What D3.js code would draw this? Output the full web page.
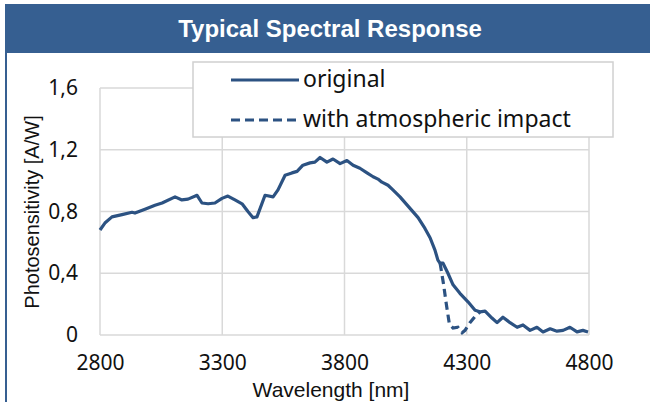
<!DOCTYPE html>
<html>
<head>
<meta charset="utf-8">
<script src="https://cdn.jsdelivr.net/npm/d3@7"></script>
<style>
  body { margin: 0; background: #fff; }
  svg { display: block; }
</style>
</head>
<body>
<svg id="main" width="650" height="404"></svg>
<script>
// spectral response (wavelength nm, A/W)
const wavelength = [2800, 2820, 2849, 2890, 2931, 2943, 2984, 3025, 3054, 3107, 3135, 3160, 3197, 3217, 3242,
  3270, 3299, 3323, 3352, 3381, 3405, 3426, 3442, 3475, 3508, 3528, 3557, 3585, 3606, 3630, 3659, 3679,
  3700, 3728, 3753, 3782, 3810, 3835, 3863, 3892, 3917, 3937, 3953, 3978, 3998, 4027, 4068, 4101, 4129,
  4150, 4170, 4182, 4191, 4203, 4223, 4244, 4272, 4305, 4334, 4354, 4375, 4403, 4424, 4448, 4477, 4506,
  4530, 4559, 4587, 4612, 4641, 4669, 4694, 4722, 4751, 4775, 4796];
const original = [0.68, 0.725, 0.765, 0.78, 0.795, 0.79, 0.815, 0.84, 0.855, 0.895, 0.875, 0.88, 0.905, 0.855, 0.85,
  0.855, 0.885, 0.90, 0.875, 0.85, 0.80, 0.76, 0.765, 0.905, 0.895, 0.94, 1.035, 1.05, 1.06, 1.10, 1.115, 1.12,
  1.15, 1.12, 1.14, 1.11, 1.13, 1.10, 1.08, 1.05, 1.025, 1.01, 0.99, 0.97, 0.94, 0.895, 0.82, 0.76, 0.69,
  0.63, 0.55, 0.485, 0.465, 0.465, 0.40, 0.325, 0.27, 0.215, 0.16, 0.15, 0.155, 0.11, 0.08, 0.115, 0.08, 0.05,
  0.065, 0.03, 0.05, 0.02, 0.04, 0.025, 0.03, 0.05, 0.02, 0.03, 0.02];

// atmospheric absorption dip, only where it departs from the original
const atmWavelength = [4191, 4205, 4216, 4229, 4244, 4264, 4281, 4293, 4313, 4334, 4354];
const atmospheric = [0.465, 0.33, 0.205, 0.07, 0.045, 0.05, 0.015, 0.03, 0.08, 0.12, 0.15];

const xTicks = [2800, 3300, 3800, 4300, 4800];
const yTicks = [0, 0.4, 0.8, 1.2, 1.6];
const legendNames = ["original", "with atmospheric impact"];

const blue = "#2c5282";
const svg = d3.select("#main");

// frame and title bar
svg.append("rect").attr("x", 5).attr("y", 4).attr("width", 645).attr("height", 49).attr("fill", "#365f91");
svg.append("rect").attr("x", 5).attr("y", 4).attr("width", 2).attr("height", 398).attr("fill", "#365f91");
svg.append("text")
  .attr("x", 330).attr("y", 37)
  .attr("text-anchor", "middle")
  .attr("fill", "#fff")
  .attr("font-family", "Liberation Sans, Arial, sans-serif")
  .attr("font-weight", "bold")
  .attr("font-size", 24)
  .text("Typical Spectral Response");

const x = d3.scaleLinear().domain([2800, 4800]).range([100, 589]);
const y = d3.scaleLinear().domain([0, 1.6]).range([335, 88]);

const tickFont = "Noto Sans, Lato, sans-serif";

// gridlines
svg.append("g").selectAll("line").data(yTicks).join("line")
  .attr("x1", 100).attr("x2", 589)
  .attr("y1", d => y(d)).attr("y2", d => y(d))
  .attr("stroke", "#d9d9d9").attr("stroke-width", 1.5);
svg.append("g").selectAll("line").data(xTicks).join("line")
  .attr("x1", d => x(d)).attr("x2", d => x(d))
  .attr("y1", y(0)).attr("y2", y(1.6))
  .attr("stroke", "#d9d9d9").attr("stroke-width", 1.5);

// axes (labels only)
const fmt = d => d === 0 ? "0" : d3.format(".1f")(d).replace(".", ",");
const yAxis = svg.append("g").attr("transform", "translate(100,0)")
  .call(d3.axisLeft(y).tickValues(yTicks).tickFormat(fmt).tickSize(0).tickPadding(22));
const xAxis = svg.append("g").attr("transform", `translate(0,${y(0)})`)
  .call(d3.axisBottom(x).tickValues(xTicks).tickFormat(d3.format("d")).tickSize(0).tickPadding(20));
[yAxis, xAxis].forEach(a => {
  a.select(".domain").remove();
  a.selectAll("text").attr("font-family", tickFont).attr("font-size", 21).attr("fill", "#111");
});

// axis titles
svg.append("text")
  .attr("x", 331).attr("y", 397)
  .attr("text-anchor", "middle")
  .attr("font-family", "Liberation Sans, Arial, sans-serif")
  .attr("font-size", 21)
  .attr("fill", "#111")
  .text("Wavelength [nm]");
svg.append("text")
  .attr("transform", "translate(39,212) rotate(-90)")
  .attr("text-anchor", "middle")
  .attr("font-family", "Liberation Sans, Arial, sans-serif")
  .attr("font-size", 20)
  .attr("fill", "#111")
  .text("Photosensitivity [A/W]");

// lines
const line = d3.line().x(d => x(d[0])).y(d => y(d[1])).curve(d3.curveLinear);
svg.append("path")
  .datum(d3.zip(atmWavelength, atmospheric))
  .attr("d", line)
  .attr("fill", "none").attr("stroke", blue).attr("stroke-width", 3.2)
  .attr("stroke-dasharray", "8,5");
svg.append("path")
  .datum(d3.zip(wavelength, original))
  .attr("d", line)
  .attr("fill", "none").attr("stroke", blue).attr("stroke-width", 3.2)
  .attr("stroke-linejoin", "round");

// legend
const legend = svg.append("g");
legend.append("rect")
  .attr("x", 193).attr("y", 62).attr("width", 420).attr("height", 75)
  .attr("fill", "#fff").attr("stroke", "#d0d0d0").attr("stroke-width", 1.5);
const entries = legend.selectAll("g.entry").data(legendNames).join("g")
  .attr("class", "entry")
  .attr("transform", (d, i) => `translate(0,${i === 0 ? 80 : 120})`);
entries.append("line")
  .attr("x1", 231).attr("x2", 299)
  .attr("stroke", blue).attr("stroke-width", 3.2)
  .attr("stroke-dasharray", (d, i) => i === 0 ? null : "9,5");
entries.append("text")
  .attr("x", 303).attr("y", 7)
  .attr("font-family", tickFont)
  .attr("font-size", 23)
  .attr("fill", "#111")
  .text(d => d);
</script>
</body>
</html>
